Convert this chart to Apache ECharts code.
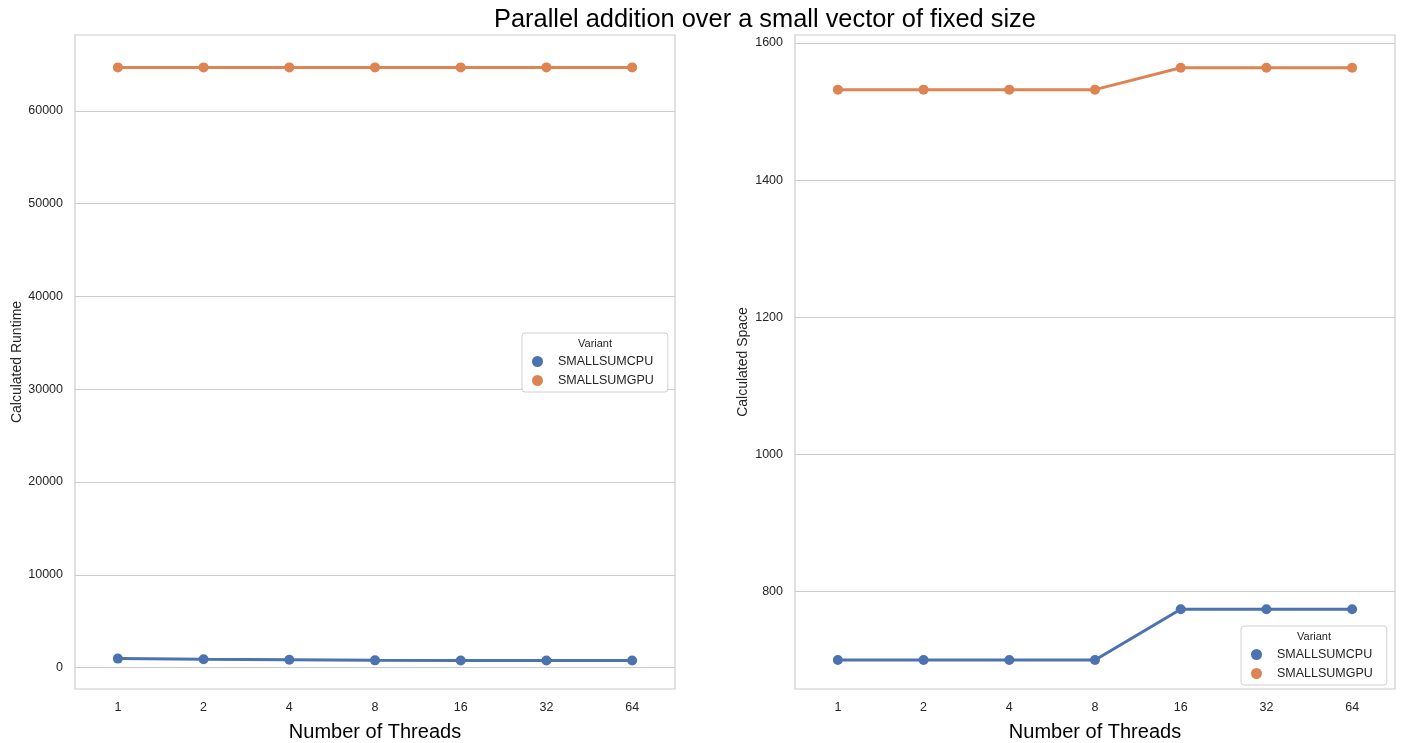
<!DOCTYPE html>
<html>
<head>
<meta charset="utf-8">
<script src="https://cdn.jsdelivr.net/npm/echarts@6/dist/echarts.min.js"></script>
<style>
html,body{margin:0;padding:0;background:#fff;}
#chart{width:1401px;height:743px;}
</style>
</head>
<body>
<div id="chart"></div>
<script>
const threads = ['1', '2', '4', '8', '16', '32', '64'];
const runtimeCPU = [960, 880, 840, 770, 760, 760, 760];
const runtimeGPU = [64700, 64700, 64700, 64700, 64700, 64700, 64700];
const spaceCPU = [700, 700, 700, 700, 774, 774, 774];
const spaceGPU = [1532, 1532, 1532, 1532, 1564, 1564, 1564];
const runtimeTicks = [0, 10000, 20000, 30000, 40000, 50000, 60000];
const spaceTicks = [800, 1000, 1200, 1400, 1600];

const FONT = '"Liberation Sans", Arial, Helvetica, sans-serif';
const BLUE = '#4c72b0';
const ORANGE = '#dd8452';
const GRIDC = '#cccccc';

function xAxis(gridIndex) {
  return {
    type: 'category', gridIndex, data: threads, boundaryGap: true,
    axisLine: { show: false }, axisTick: { show: false },
    axisLabel: { color: '#262626', fontSize: 12.5, fontFamily: FONT, margin: 12 },
    splitLine: { show: false },
    name: 'Number of Threads', nameLocation: 'middle', nameGap: 33,
    nameTextStyle: { color: '#000', fontSize: 20, fontFamily: FONT }
  };
}
function yAxis(gridIndex, min, max, ticks, name, gap) {
  return {
    type: 'value', gridIndex, min, max,
    axisLine: { show: false },
    axisTick: { show: false, customValues: ticks },
    axisLabel: { color: '#262626', fontSize: 12.5, fontFamily: FONT, margin: 12, customValues: ticks,
                 formatter: v => String(Math.round(v)) },
    splitLine: { show: true, lineStyle: { color: GRIDC, width: 1 } },
    name, nameLocation: 'middle', nameGap: gap,
    nameTextStyle: { color: '#262626', fontSize: 14, fontFamily: FONT }
  };
}
function line(name, data, color, xi, yi) {
  return {
    name, type: 'line', xAxisIndex: xi, yAxisIndex: yi, data,
    symbol: 'circle', symbolSize: 10, showSymbol: true,
    lineStyle: { color, width: 3 }, itemStyle: { color },
    emphasis: { disabled: true }, animation: false
  };
}
function legend(left, top) {
  return {
    orient: 'vertical', left, top,
    data: ['SMALLSUMCPU', 'SMALLSUMGPU'],
    icon: 'circle', itemWidth: 11, itemHeight: 11, itemGap: 6,
    backgroundColor: '#fff', borderColor: '#d0d0d0', borderWidth: 1, borderRadius: 3,
    padding: [22, 14, 5, 10],
    textStyle: { color: '#262626', fontSize: 12.5, fontFamily: FONT, padding: [0, 0, 0, 10] },
    selectedMode: false
  };
}

const chart = echarts.init(document.getElementById('chart'), null, { renderer: 'canvas' });
chart.setOption({
  animation: false,
  backgroundColor: '#fff',
  title: {
    text: 'Parallel addition over a small vector of fixed size',
    left: 489, top: 2,
    textStyle: { color: '#000', fontSize: 25.4, fontWeight: 'normal', fontFamily: FONT }
  },
  grid: [
    { left: 75, top: 35, width: 600, height: 654, show: true, borderColor: GRIDC, borderWidth: 1.2, backgroundColor: '#fff', outerBoundsMode: 'none', containLabel: false },
    { left: 795, top: 35, width: 600, height: 654, show: true, borderColor: GRIDC, borderWidth: 1.2, backgroundColor: '#fff', outerBoundsMode: 'none', containLabel: false }
  ],
  xAxis: [xAxis(0), xAxis(1)],
  yAxis: [
    yAxis(0, -2318, 68194, runtimeTicks, 'Calculated Runtime', 51),
    yAxis(1, 657.8, 1611.7, spaceTicks, 'Calculated Space', 45)
  ],
  legend: [legend(522, 333), legend(1241, 626)],
  graphic: [
    { type: 'text', left: 578, top: 338, z: 100, style: { text: 'Variant', fill: '#262626', font: '11px ' + FONT } },
    { type: 'text', left: 1297, top: 631, z: 100, style: { text: 'Variant', fill: '#262626', font: '11px ' + FONT } }
  ],
  series: [
    line('SMALLSUMCPU', runtimeCPU, BLUE, 0, 0),
    line('SMALLSUMGPU', runtimeGPU, ORANGE, 0, 0),
    line('SMALLSUMCPU', spaceCPU, BLUE, 1, 1),
    line('SMALLSUMGPU', spaceGPU, ORANGE, 1, 1)
  ]
});
</script>
</body>
</html>
